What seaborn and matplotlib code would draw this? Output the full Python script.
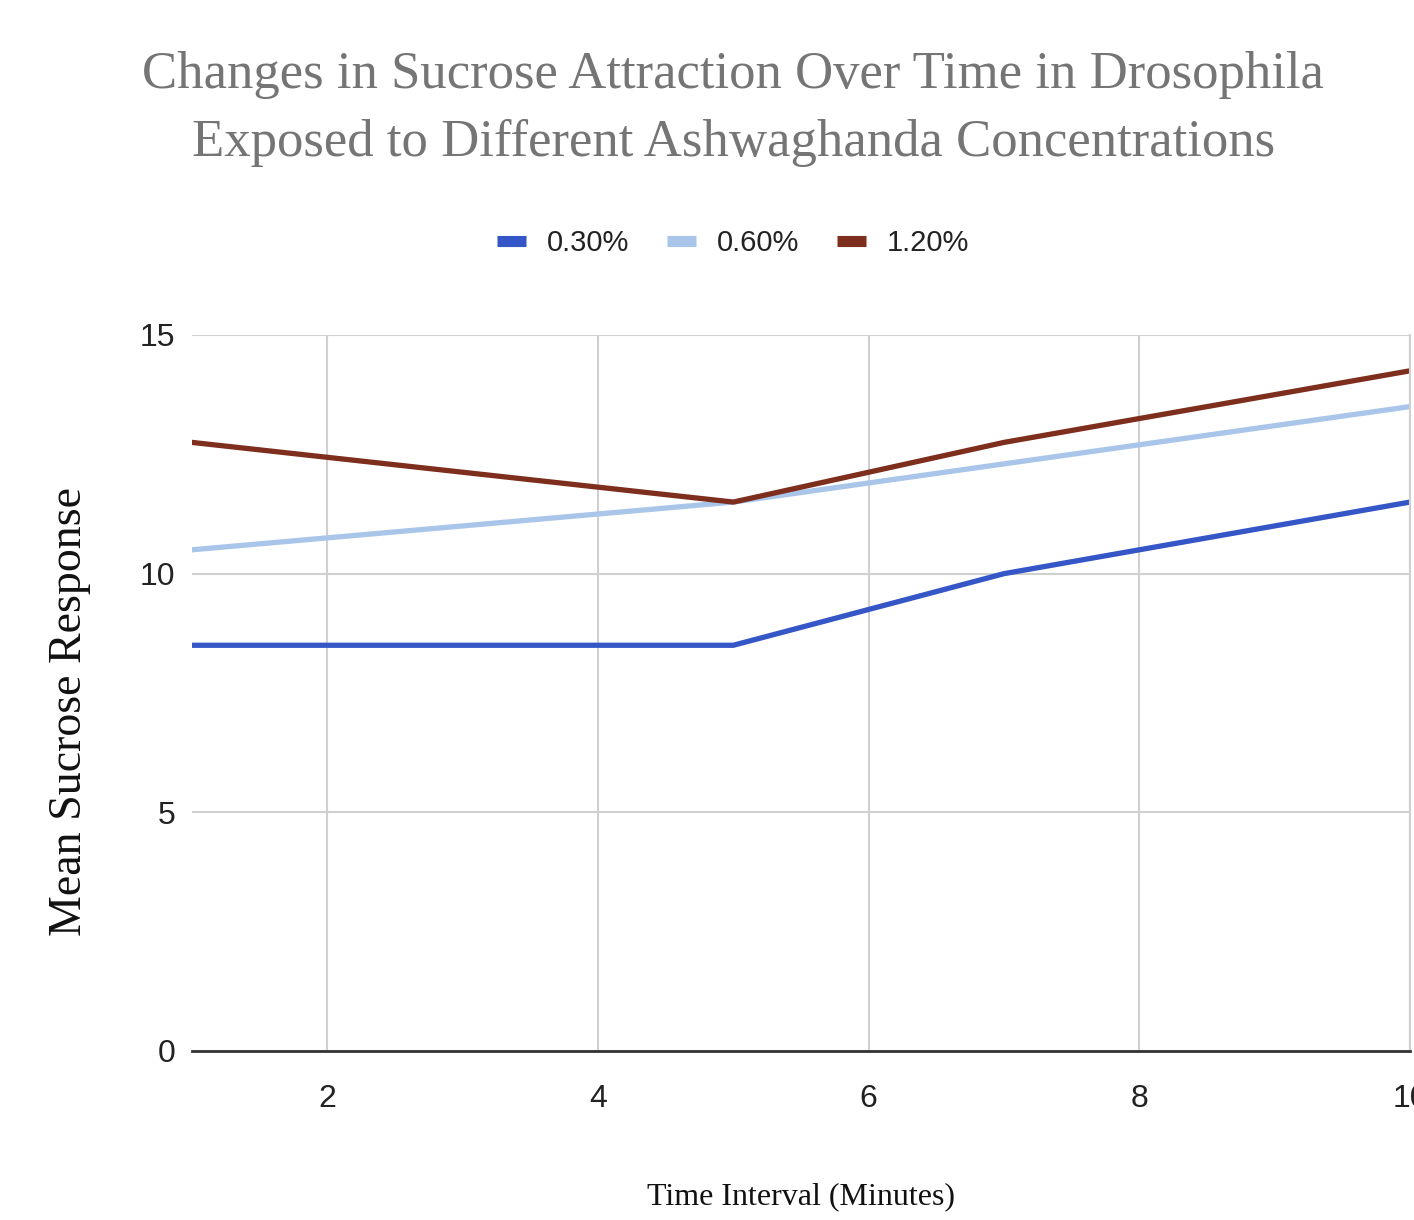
import matplotlib
matplotlib.use("Agg")
import matplotlib.pyplot as plt
import seaborn as sns
import pandas as pd
from matplotlib.lines import Line2D

time_minutes = [1, 5, 7, 10]
series_labels = ["0.30%", "0.60%", "1.20%"]
resp_030 = [8.5, 8.5, 10.0, 11.5]
resp_060 = [10.5, 11.5, 12.3, 13.5]
resp_120 = [12.75, 11.5, 12.75, 14.25]
x_ticks = [2, 4, 6, 8, 10]
y_ticks = [0, 5, 10, 15]

colors = ["#3556c6", "#a9c5ea", "#7e2e1d"]

rows = []
for lab, vals in zip(series_labels, [resp_030, resp_060, resp_120]):
    for t, v in zip(time_minutes, vals):
        rows.append({"Time": t, "Response": v, "Concentration": lab})
df = pd.DataFrame(rows)

sns.set_theme(style="white")
plt.rcParams["font.family"] = ["Liberation Sans", "DejaVu Sans"]

fig = plt.figure(figsize=(14.14, 12.2), dpi=100)
ax = fig.add_axes([192/1414, 1 - 1051/1220, (1410 - 192)/1414, (1051 - 335)/1220])

sns.lineplot(data=df, x="Time", y="Response", hue="Concentration",
             hue_order=series_labels, palette=colors, linewidth=3.8,
             ax=ax, legend=False, sort=False)

ax.set_xlim(1, 10)
ax.set_ylim(0, 15)
ax.set_xticks(x_ticks)
ax.set_yticks(y_ticks)
ax.grid(True, color="#d0d0d0", linewidth=1.5)
ax.set_axisbelow(True)
for s in ["top", "left"]:
    ax.spines[s].set_visible(False)
ax.spines["right"].set_color("#d0d0d0")
ax.spines["right"].set_linewidth(1.5)
ax.spines["bottom"].set_color("#333333")
ax.spines["bottom"].set_linewidth(2)
ax.tick_params(axis="both", length=0, labelsize=23, colors="#222222")
ax.tick_params(axis="x", pad=24)
ax.tick_params(axis="y", pad=12)
ax.set_xlabel("")
ax.set_ylabel("")

serif = ["Liberation Serif", "DejaVu Serif"]
fig.text(733/1414, 1 - 75/1220, "Changes in Sucrose Attraction Over Time in Drosophila",
         ha="center", va="center", fontsize=38, color="#757575", family=serif)
fig.text(734/1414, 1 - 143/1220, "Exposed to Different Ashwaghanda Concentrations",
         ha="center", va="center", fontsize=38, color="#757575", family=serif)
fig.text(801/1414, 1 - 1197/1220, "Time Interval (Minutes)", ha="center", va="center",
         fontsize=23, color="#111111", family=serif)
fig.text(70/1414, 1 - 712/1220, "Mean Sucrose Response", ha="center", va="center",
         rotation=90, fontsize=33, color="#111111", family=serif)

handles = [Line2D([0], [0], color=c, linewidth=8, solid_capstyle="butt") for c in colors]
fig.legend(handles, series_labels, loc="center", bbox_to_anchor=(733/1414, 1 - 243/1220),
           ncol=3, frameon=False, fontsize=21, handlelength=1.0, columnspacing=1.3,
           handletextpad=0.7, labelcolor="#222222")

fig.savefig("out.png", dpi=100, facecolor="white")
